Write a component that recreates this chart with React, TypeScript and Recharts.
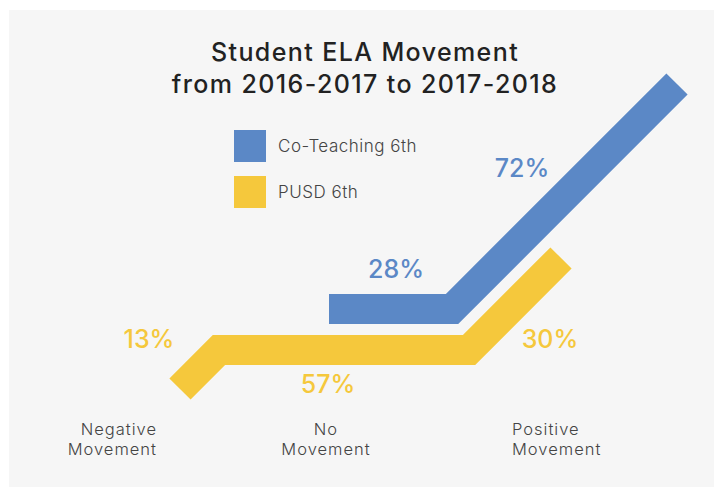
import React from "react";
import { LineChart, Line, XAxis, YAxis, ReferenceDot, Legend } from "recharts";

// x axis categories (bottom labels) and where they sit on the x scale
const categories = ["Negative Movement", "No Movement", "Positive Movement"];
const categoryPos = [14.8, 31.7, 50.3];
const categoryAnchor = ["end", "middle", "start"];

// stylised movement paths (layout units, 1 unit = 10px)
const coTeachX = [32.0, 44.3, 66.8];
const coTeachY = [9.8, 9.8, 32.3];
const pusdX = [17.1, 21.0, 46.0, 55.2];
const pusdY = [1.8, 5.7, 5.7, 14.9];

// percentage callouts
const coTeachPct = ["28%", "72%"];
const coTeachPctX = [38.7, 51.3];
const coTeachPctY = [13.8, 23.9];
const pusdPct = ["13%", "57%", "30%"];
const pusdPctX = [14.0, 31.9, 54.1];
const pusdPctY = [6.8, 2.3, 6.8];

const BLUE = "#5b88c6";
const YELLOW = "#f5c83c";
const FONT = "Inter, 'Open Sans', sans-serif";

const coTeachData = coTeachX.map((x, i) => ({ x, y: coTeachY[i] }));
const pusdData = pusdX.map((x, i) => ({ x, y: pusdY[i] }));

function MovementTick(props: any) {
  const { x, y, index } = props;
  const words = categories[index].split(" ");
  return (
    <text x={x} y={y} textAnchor={categoryAnchor[index]} fill="#444" fontSize={16.5} fontWeight={300} fontFamily={FONT} letterSpacing={1}>
      {words.map((w, k) => (
        <tspan key={k} x={x} dy={k === 0 ? 28 : 19.5}>
          {w}
        </tspan>
      ))}
    </text>
  );
}

function LegendBox(props: any) {
  const items = props.payload || [];
  return (
    <div>
      {items.map((p: any, i: number) => (
        <div key={i} style={{ display: "flex", alignItems: "center", height: 32, marginBottom: 14 }}>
          <div style={{ width: 32, height: 32, background: p.color }} />
          <span style={{ marginLeft: 12, fontSize: 17, fontWeight: 300, color: "#444", fontFamily: FONT, letterSpacing: 0.5 }}>{p.value}</span>
        </div>
      ))}
    </div>
  );
}

function pctLabel(text: string, color: string) {
  return { value: text, position: "center" as const, fill: color, fontSize: 25, fontWeight: 500, fontFamily: FONT };
}

export default function App() {
  return (
    <div style={{ position: "absolute", left: 9, top: 10, width: 705, height: 477, background: "#f6f6f6", fontFamily: FONT }}>
      <div style={{ position: "absolute", left: 0, top: 26, width: 712, textAlign: "center", fontSize: 25, lineHeight: "32px", fontWeight: 500, letterSpacing: 1.4, color: "#222" }}>
        Student ELA Movement
        <br />
        from 2016-2017 to 2017-2018
      </div>
      <LineChart width={705} height={477} margin={{ top: 0, right: 0, bottom: 0, left: 0 }}>
        <XAxis
          type="number"
          dataKey="x"
          domain={[0, 70.5]}
          ticks={categoryPos}
          tick={<MovementTick />}
          axisLine={false}
          tickLine={false}
          tickSize={0}
          tickMargin={0}
          height={80}
          interval={0}
          allowDataOverflow
        />
        <YAxis type="number" dataKey="y" domain={[0, 39.7]} hide allowDataOverflow />
        <Legend
          layout="vertical"
          align="center"
          verticalAlign="middle"
          wrapperStyle={{ left: 225, top: 120, width: 200 }}
          content={<LegendBox />}
        />
        <Line
          data={coTeachData}
          dataKey="y"
          name="Co-Teaching 6th"
          type="linear"
          stroke={BLUE}
          strokeWidth={30}
          strokeLinejoin="miter"
          strokeLinecap="butt"
          dot={false}
          activeDot={false}
          isAnimationActive={false}
        />
        <Line
          data={pusdData}
          dataKey="y"
          name="PUSD 6th"
          type="linear"
          stroke={YELLOW}
          strokeWidth={30}
          strokeLinejoin="miter"
          strokeLinecap="butt"
          dot={false}
          activeDot={false}
          isAnimationActive={false}
        />
        {coTeachPct.map((t, i) => (
          <ReferenceDot key={"c" + i} x={coTeachPctX[i]} y={coTeachPctY[i]} r={0} fill="none" stroke="none" label={pctLabel(t, BLUE)} />
        ))}
        {pusdPct.map((t, i) => (
          <ReferenceDot key={"p" + i} x={pusdPctX[i]} y={pusdPctY[i]} r={0} fill="none" stroke="none" label={pctLabel(t, YELLOW)} />
        ))}
      </LineChart>
    </div>
  );
}
